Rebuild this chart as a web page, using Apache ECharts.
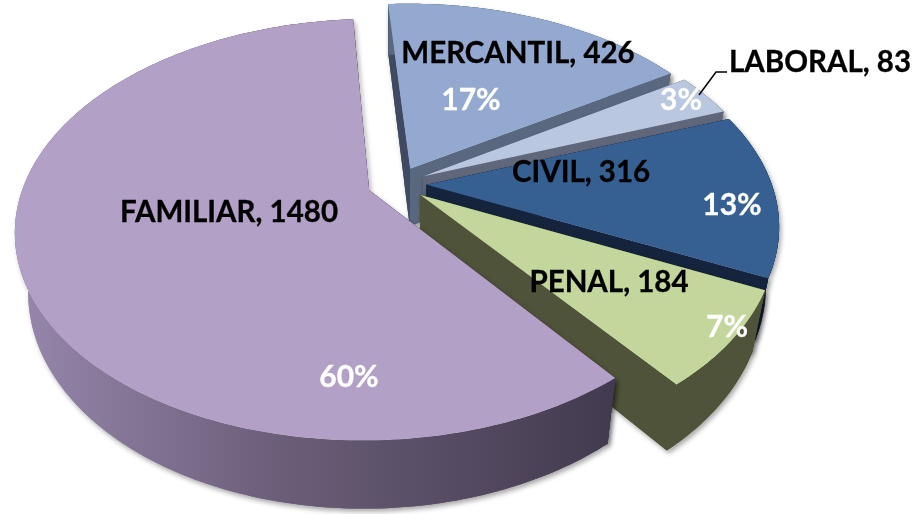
<!DOCTYPE html>
<html>
<head>
<meta charset="utf-8">
<script src="https://cdn.jsdelivr.net/npm/echarts@6/dist/echarts.min.js"></script>
<style>
  html, body { margin: 0; padding: 0; background: #fff; }
  #chart { width: 915px; height: 514px; }
</style>
</head>
<body>
<div id="chart"></div>
<script>
  // slices in clockwise order, starting just left of 12 o'clock
  var categories = ['MERCANTIL', 'LABORAL', 'CIVIL', 'PENAL', 'FAMILIAR'];
  var values = [426, 83, 316, 184, 1480];
  var percents = ['17%', '3%', '13%', '7%', '60%'];

  var topColors = ['#93A9D0', '#B9C7E0', '#366092', '#C3D69B', '#B2A0C7'];
  var cutColors = ['#59677F', '#60677A', '#15243C', '#4F5339', '#423A4E'];
  var leftCutColor = '#3F4A62';
  var familiarWall = new echarts.graphic.LinearGradient(15, 0, 615, 0, [
    {offset: 0, color: '#9787AC'},
    {offset: 0.45, color: '#6A5D78'},
    {offset: 1, color: '#423A4E'}
  ], true);
  var wallColors = ['#59677F', '#60677A', '#15243C', '#4F5339', familiarWall];

  // centre of label text, in px
  var nameLabelPos = [[518, 53], [820, 62], [581, 172], [609, 282], [229, 212]];
  var pctLabelPos = [[471, 100], [681, 100], [732, 205], [727, 327], [349, 377]];
  var leaderLine = [[727, 72], [716, 72], [699, 95]];

  // fake 3d projection of the pie
  var cx = 397, cy = 184, rx = 345, ry = 201, persp = 0.186;
  var explode = 0.086, startAngle = -4;
  var depthY = 58, bottomScaleX = 0.965, bottomScaleY = 1.04;

  var total = values.reduce(function (a, b) { return a + b; }, 0);

  function project(x, y, bottom) {
    var w = 1 / (1 - persp * y);
    var px = rx * x * w, py = ry * y * w;
    if (bottom) {
      return [cx + px * bottomScaleX, cy + depthY + py * bottomScaleY];
    }
    return [cx + px, cy + py];
  }

  function rad(deg) { return deg * Math.PI / 180; }

  function renderSlice(params, api) {
    var i = params.dataIndex;
    var before = 0;
    for (var k = 0; k < i; k++) before += values[k];
    var a0 = startAngle + before / total * 360;
    var a1 = a0 + api.value(0) / total * 360;
    var mid = rad((a0 + a1) / 2);
    var ox = explode * Math.sin(mid), oy = -explode * Math.cos(mid);

    var arcTop = [], arcBottom = [];
    for (var a = a0; ; a += 1) {
      var t = rad(Math.min(a, a1));
      arcTop.push(project(ox + Math.sin(t), oy - Math.cos(t), false));
      arcBottom.push(project(ox + Math.sin(t), oy - Math.cos(t), true));
      if (a >= a1) break;
    }
    var apexTop = project(ox, oy, false);
    var apexBottom = project(ox, oy, true);
    var last = arcTop.length - 1;
    var shadow = {shadowBlur: 5, shadowColor: 'rgba(0,0,0,0.35)', shadowOffsetX: 2, shadowOffsetY: 3};

    function poly(points, fill, withShadow) {
      var style = {fill: fill};
      if (withShadow) Object.assign(style, shadow);
      return {type: 'polygon', z2: i, shape: {points: points}, style: style};
    }

    var startFace = [apexTop, arcTop[0], arcBottom[0], apexBottom];
    var endFace = [apexTop, arcTop[last], arcBottom[last], apexBottom];
    var wall = arcTop.concat(arcBottom.slice().reverse());
    var startFill = i === 0 ? leftCutColor : cutColors[i];

    var children = [
      // shadow pass first, then the same faces again so no seams show
      poly(startFace, startFill, true),
      poly(endFace, cutColors[i], true),
      poly(wall, wallColors[i], true),
      poly(startFace, startFill, false),
      poly(endFace, cutColors[i], false),
      poly(wall, wallColors[i], false),
      // top surface
      poly([apexTop].concat(arcTop), topColors[i], false),
      {
        type: 'text', z2: 100,
        x: nameLabelPos[i][0], y: nameLabelPos[i][1],
        style: {
          text: categories[i] + ', ' + api.value(0),
          fill: '#000', stroke: '#000', lineWidth: 0.3,
          font: 'bold 29.5px Lato', align: 'center', verticalAlign: 'middle'
        }
      },
      {
        type: 'text', z2: 100,
        x: pctLabelPos[i][0], y: pctLabelPos[i][1],
        style: {
          text: percents[i],
          fill: '#fff', stroke: '#fff', lineWidth: 0.3,
          font: 'bold 30px Lato', align: 'center', verticalAlign: 'middle'
        }
      }
    ];
    if (categories[i] === 'LABORAL') {
      children.push({
        type: 'polyline', z2: 100,
        shape: {points: leaderLine},
        style: {stroke: '#000', lineWidth: 1.5, fill: null}
      });
    }
    return {type: 'group', children: children};
  }

  var chart = echarts.init(document.getElementById('chart'));
  chart.setOption({
    animation: false,
    backgroundColor: '#fff',
    series: [{
      type: 'custom',
      coordinateSystem: 'none',
      renderItem: renderSlice,
      data: values.map(function (v) { return [v]; })
    }]
  });
</script>
</body>
</html>
